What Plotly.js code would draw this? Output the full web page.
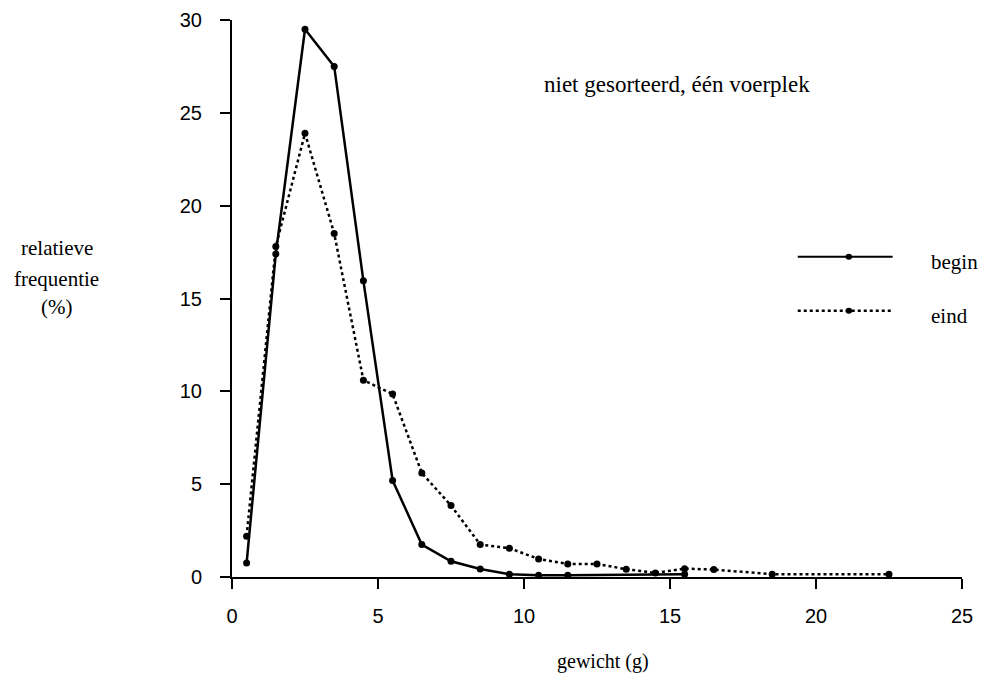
<!DOCTYPE html>
<html>
<head>
<meta charset="utf-8">
<script src="https://cdn.plot.ly/plotly-3.0.1.min.js"></script>
<style>body{margin:0;background:#fff}#chart{width:992px;height:691px}</style>
</head>
<body>
<div id="chart"></div>
<script>
const beginX = [0.5, 1.5, 2.5, 3.5, 4.5, 5.5, 6.5, 7.5, 8.5, 9.5, 10.5, 11.5, 15.5];
const beginY = [0.75, 17.4, 29.5, 27.5, 15.95, 5.2, 1.75, 0.85, 0.43, 0.15, 0.1, 0.1, 0.15];
const eindX = [0.5, 1.5, 2.5, 3.5, 4.5, 5.5, 6.5, 7.5, 8.5, 9.5, 10.5, 11.5, 12.5, 13.5, 14.5, 15.5, 16.5, 18.5, 22.5];
const eindY = [2.2, 17.8, 23.9, 18.5, 10.6, 9.85, 5.6, 3.85, 1.75, 1.55, 0.97, 0.7, 0.7, 0.42, 0.22, 0.45, 0.4, 0.15, 0.15];
const xTicks = [0, 5, 10, 15, 20, 25];
const yTicks = [0, 5, 10, 15, 20, 25, 30];
const seriesNames = ['begin', 'eind'];

const serif = 'Liberation Serif, Times New Roman, serif';
const sans = 'Liberation Sans, Arial, sans-serif';

const traces = [
  {x: beginX, y: beginY, name: seriesNames[0], mode: 'lines+markers', type: 'scatter',
   line: {color: '#000', width: 2.5, dash: 'solid'}, marker: {color: '#000', size: 7}, cliponaxis: false},
  {x: eindX, y: eindY, name: seriesNames[1], mode: 'lines+markers', type: 'scatter',
   line: {color: '#000', width: 2.5, dash: 'dot'}, marker: {color: '#000', size: 7}, cliponaxis: false}
];

function ann(text, x, y, size, xanchor) {
  return {text: text, xref: 'paper', yref: 'paper', x: x, y: y, showarrow: false,
    xanchor: xanchor || 'center', yanchor: 'middle', font: {family: serif, size: size, color: '#000'}};
}

const layout = {
  width: 992, height: 691,
  margin: {l: 232, r: 30, t: 20, b: 114},
  paper_bgcolor: '#fff', plot_bgcolor: '#fff',
  showlegend: false,
  xaxis: {range: [0, 25], tickvals: xTicks, ticktext: xTicks.map(String), showgrid: false, zeroline: false,
    showline: true, linecolor: '#000', linewidth: 2, ticks: 'outside', ticklen: 10, tickwidth: 2, tickcolor: '#000',
    tickfont: {family: sans, size: 20, color: '#000'}, ticklabelstandoff: 10},
  yaxis: {range: [0, 30], tickvals: yTicks, ticktext: yTicks.map(String), showgrid: false, zeroline: false,
    showline: true, linecolor: '#000', linewidth: 2, ticks: 'outside', ticklen: 10, tickwidth: 2, tickcolor: '#000',
    tickfont: {family: sans, size: 20, color: '#000'}, ticklabelstandoff: 14},
  shapes: [
    {type: 'line', xref: 'paper', yref: 'paper', x0: 0.775, x1: 0.905, y0: 0.575, y1: 0.575, line: {color: '#000', width: 2}},
    {type: 'line', xref: 'paper', yref: 'paper', x0: 0.775, x1: 0.905, y0: 0.478, y1: 0.478, line: {color: '#000', width: 2.5, dash: 'dot'}},
    {type: 'circle', xref: 'paper', yref: 'paper', x0: 0.8405, x1: 0.8495, y0: 0.5695, y1: 0.5805, fillcolor: '#000', line: {color: '#000', width: 0}},
    {type: 'circle', xref: 'paper', yref: 'paper', x0: 0.8405, x1: 0.8495, y0: 0.4725, y1: 0.4835, fillcolor: '#000', line: {color: '#000', width: 0}}
  ],
  annotations: [
    ann('niet gesorteerd, één voerplek', 0.609, 0.885, 23),
    ann(seriesNames[0], 0.955, 0.566, 21, 'left'),
    ann(seriesNames[1], 0.955, 0.469, 21, 'left'),
    ann('relatieve', -0.24, 0.59, 21),
    ann('frequentie', -0.24, 0.535, 21),
    ann('(%)', -0.24, 0.484, 21),
    ann('gewicht (g)', 0.508, -0.152, 20)
  ]
};

Plotly.newPlot('chart', traces, layout, {staticPlot: true, displayModeBar: false});
</script>
</body>
</html>
